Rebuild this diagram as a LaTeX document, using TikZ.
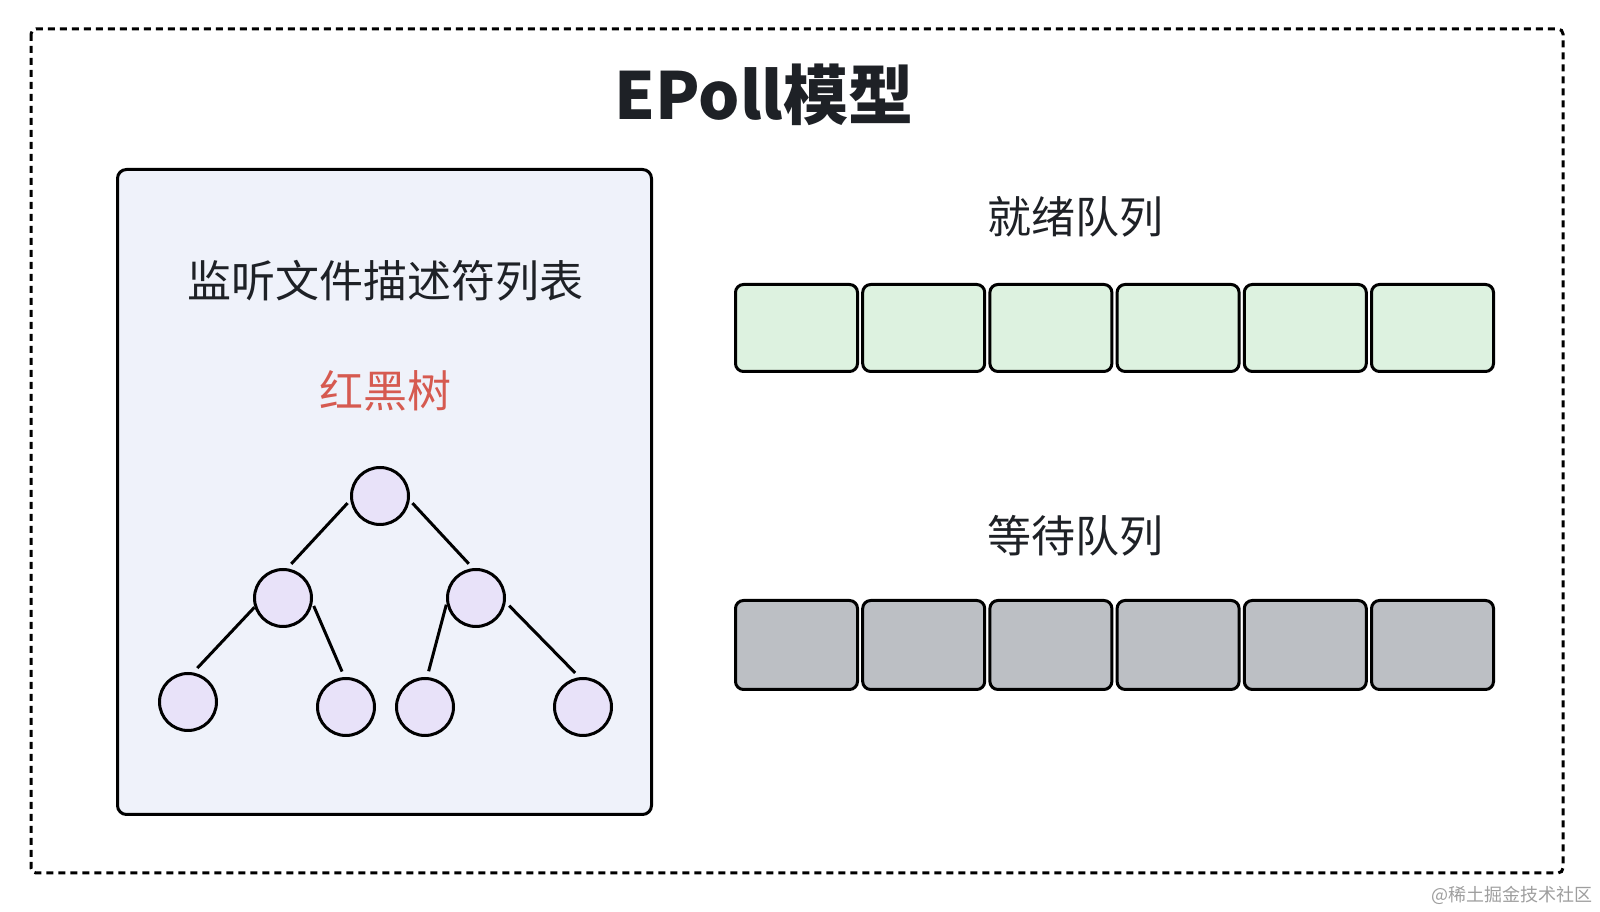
\documentclass[tikz,border=0pt]{standalone}
\usepackage{fontspec}
\setmainfont{Noto Sans CJK SC}
\usepackage{xcolor}
\usepackage{tikz}
\usetikzlibrary{positioning, calc}
\definecolor{panelfill}{HTML}{EFF2FA}
\definecolor{nodefill}{HTML}{E8E2F9}
\definecolor{readyfill}{HTML}{DDF2E0}
\definecolor{waitfill}{HTML}{BCBFC4}
\definecolor{rbtred}{HTML}{D65A50}
\definecolor{inkdark}{HTML}{1E2126}
\tikzset{
  outerframe/.style={
    draw=black, line width=3pt, dash pattern=on 7pt off 5pt,
    rounded corners=5pt
  },
  panelbox/.style={
    draw=black, line width=3pt, rounded corners=9pt, fill=panelfill,
    minimum width=534pt, minimum height=645pt, inner sep=0pt
  },
  bigtitle/.style={
    font=\fontsize{65}{72}\selectfont\bfseries, text=inkdark
  },
  cjklabel/.style={
    font=\fontsize{44}{50}\selectfont, text=inkdark
  },
  treenode/.style={
    circle, draw=black, line width=3pt, fill=nodefill,
    minimum size=57pt, inner sep=0pt
  },
  treeedge/.style={
    line width=3pt, shorten <=3pt, shorten >=6pt
  },
  readycell/.style={
    draw=black, line width=3pt, rounded corners=8pt, fill=readyfill,
    minimum width=122pt, minimum height=87pt, inner sep=0pt
  },
  waitcell/.style={
    draw=black, line width=3pt, rounded corners=8pt, fill=waitfill,
    minimum width=122pt, minimum height=89pt, inner sep=0pt
  },
  watermark/.style={
    font=\fontsize{18}{21}\selectfont, text=black!38
  },
}

\begin{document}
\begin{tikzpicture}[x=1pt, y=1pt]
  \useasboundingbox (0,0) rectangle (1600,912);

  % ── Outer dashed frame ─────────────────────────────────────────
  \draw[outerframe] (31,883) rectangle (1563,39);

  % ── Title ──────────────────────────────────────────────────────
  \node[bigtitle] (title) at (764,817) {EPoll模型};

  % ── Listened fd list (red-black tree) ──────────────────────────
  \node[panelbox] (fdpanel) at (384.5,420) {};
  \node[cjklabel] (fdlabel) at (385,631) {监听文件描述符列表};
  \node[cjklabel, text=rbtred] (rbtlabel) at (385,521) {红黑树};

  \node[treenode] (root)   at (380,416) {};
  \node[treenode] (lft)    at (283,314) {};
  \node[treenode] (rgt)    at (476,314) {};
  \node[treenode] (lftlft) at (188,210) {};
  \node[treenode] (lftrgt) at (346,205) {};
  \node[treenode] (rgtlft) at (425,205) {};
  \node[treenode] (rgtrgt) at (583,205) {};

  \draw[treeedge, shorten <=4pt] (root.188) -- (lft.82);
  \draw[treeedge, shorten <=4pt] (root.-8)  -- (rgt.96);
  \draw[treeedge, shorten <=0pt] (lft.198)  -- (lftlft.80);
  \draw[treeedge] (lft.-10)  -- (lftrgt.93);
  \draw[treeedge, shorten <=1pt] (rgt.191)  -- (rgtlft.86);
  \draw[treeedge, shorten <=5pt] (rgt.-8)   -- (rgtrgt.97);

  % ── Ready queue ────────────────────────────────────────────────
  \node[cjklabel] (readylabel) at (1075,695) {就绪队列};

  \node[readycell] (ready1) at (796.5,584) {};
  \node[readycell] (ready2) at (923.7,584) {};
  \node[readycell] (ready3) at (1050.9,584) {};
  \node[readycell] (ready4) at (1178.1,584) {};
  \node[readycell] (ready5) at (1305.3,584) {};
  \node[readycell] (ready6) at (1432.5,584) {};

  % ── Wait queue ─────────────────────────────────────────────────
  \node[cjklabel] (waitlabel) at (1075,376) {等待队列};

  \node[waitcell] (wait1) at (796.5,267) {};
  \node[waitcell] (wait2) at (923.7,267) {};
  \node[waitcell] (wait3) at (1050.9,267) {};
  \node[waitcell] (wait4) at (1178.1,267) {};
  \node[waitcell] (wait5) at (1305.3,267) {};
  \node[waitcell] (wait6) at (1432.5,267) {};

  % ── Watermark ──────────────────────────────────────────────────
  \node[watermark, anchor=east] (mark) at (1596,17) {@稀土掘金技术社区};
\end{tikzpicture}
\end{document}
